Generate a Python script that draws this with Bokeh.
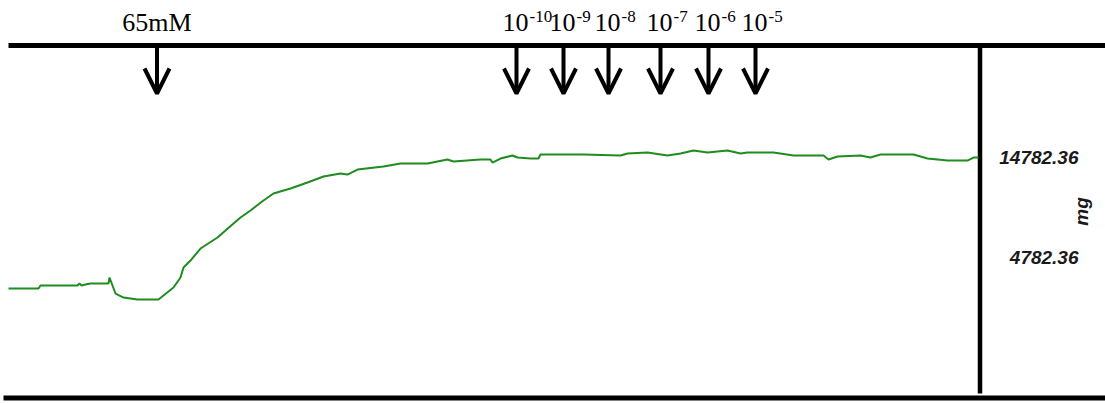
from bokeh.plotting import figure
from bokeh.models import Range1d, ColumnDataSource, Arrow, OpenHead
from bokeh.core.properties import value
from bokeh.embed import file_html
from bokeh.resources import INLINE

# ---- data (time in s, isometric tension in mg) ----
time_s = [0, 30, 32, 69, 71, 73, 77, 82, 100, 101, 104, 107, 115, 129, 150, 155,
          165, 172, 175, 182, 192, 209, 225, 232, 242, 255, 265, 282, 299, 315,
          332, 339, 349, 375, 392, 419, 439, 445,
          472, 482, 484, 492, 504, 509, 522, 530, 532, 575, 612, 619, 639, 659,
          672, 685, 699, 719, 732, 739, 765, 785, 815, 820, 829, 852, 862, 872,
          905, 919, 939, 959, 965, 970]
tension_mg = [1680, 1680, 1980, 1980, 2180, 1980, 2080, 2180, 2180, 2780, 1980, 1180,
              780, 580, 580, 980, 1780, 2780, 3780, 4480, 5680, 6780, 8180, 8780,
              9480, 10480, 11180, 11680, 12280, 12880, 13180, 13080, 13580, 13880,
              14180, 14180, 14580, 14380,
              14580, 14580, 14280, 14680, 14980, 14780, 14680, 14680, 15080, 15080,
              14980, 15180, 15280, 14980, 15180, 15480, 15280, 15480, 15180, 15280,
              15280, 14980, 14980, 14580, 14880, 14980, 14780, 15080, 15080, 14680,
              14480, 14480, 14780, 14780]

kcl_time = [148.5]
kcl_label = ["65mM"]
dose_time = [508, 555, 600, 652, 700, 747]
dose_exp = ["-10", "-9", "-8", "-7", "-6", "-5"]

scale_ticks = [14782.36, 4782.36]
scale_labels = ["14782.36", "4782.36"]
unit_label = "mg"

# ---- layout helpers (figure placed at page origin) ----
W, H = 1105, 403
MG_PER_PX = 100.0
Y_TOP = 30482.36   # value at the top pixel row
X_LEFT = -8.0      # time at the left pixel column


def y_at(py):
    return Y_TOP - py * MG_PER_PX


def t_at(px):
    return X_LEFT + px


p = figure(width=W, height=H, output_backend="svg", toolbar_location=None,
           x_axis_type=None, y_axis_type=None, min_border=0,
           x_range=Range1d(X_LEFT, X_LEFT + W),
           y_range=Range1d(Y_TOP - H * MG_PER_PX, Y_TOP))
p.outline_line_color = None
p.grid.visible = False
p.background_fill_color = "white"
p.border_fill_color = "white"

# frame lines
p.segment(x0=[t_at(8), t_at(3)], y0=[y_at(45), y_at(397.5)],
          x1=[t_at(1105), t_at(1105)], y1=[y_at(45), y_at(397.5)],
          line_color="black", line_width=5)
rule_x = time_s[-1] + 1.5
p.segment(x0=[rule_x], y0=[y_at(45)], x1=[rule_x], y1=[y_at(393)],
          line_color="black", line_width=4.5)

# trace
p.line(time_s, tension_mg, line_color="#1e8c1e", line_width=2)

# addition arrows
all_t = kcl_time + dose_time
arr_src = ColumnDataSource(dict(x=all_t, y0=[y_at(46)] * len(all_t),
                                y1=[y_at(93)] * len(all_t)))
p.add_layout(Arrow(end=OpenHead(size=25, line_width=4, line_color="black"),
                   x_start="x", y_start="y0", x_end="x", y_end="y1",
                   line_width=4, line_color="black", source=arr_src))

# labels above arrows
p.text(x=kcl_time, y=[y_at(21.5)], text=kcl_label, text_align="center",
       text_baseline="middle", text_font=value("Liberation Serif"),
       text_font_size="26px", text_color="black")
p.text(x=dose_time, y=[y_at(21.5)] * len(dose_time), text=["10"] * len(dose_time),
       text_align="center", text_baseline="middle", x_offset=-1,
       text_font=value("Liberation Serif"), text_font_size="26px", text_color="black")
p.text(x=dose_time, y=[y_at(15.5)] * len(dose_time), text=dose_exp,
       text_align="left", text_baseline="middle", x_offset=13,
       text_font=value("Liberation Serif"), text_font_size="17px", text_color="black")

# scale labels on the right
p.text(x=[t_at(1078)] * len(scale_ticks), y=scale_ticks, text=scale_labels,
       text_align="right", text_baseline="middle",
       text_font=value("Liberation Sans"), text_font_style="bold italic",
       text_font_size="19px", text_color="#1a1a1a")
p.text(x=[t_at(1081)], y=[y_at(211)], text=[unit_label], angle=1.5708,
       text_align="center", text_baseline="middle",
       text_font=value("Liberation Sans"), text_font_style="bold italic",
       text_font_size="19px", text_color="#1a1a1a")

open("out.html", "w").write(file_html(p, INLINE))
